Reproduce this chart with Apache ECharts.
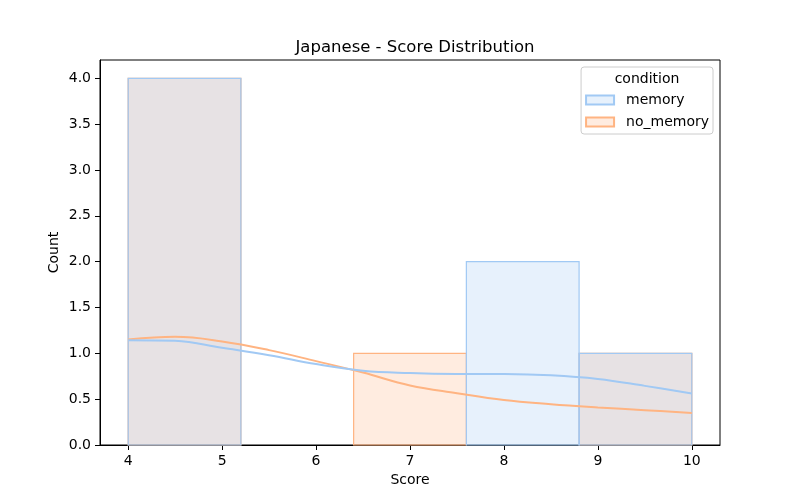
<!DOCTYPE html>
<html>
<head>
    <meta charset="utf-8">
    <title>Japanese - Score Distribution</title>
    <script src="https://cdn.jsdelivr.net/npm/echarts@6/dist/echarts.min.js"></script>
    <style>
        html, body { margin: 0; padding: 0; background: #fff; }
        #chart { width: 800px; height: 500px; }
    </style>
</head>
<body>
<div id="chart"></div>
<script>
    // histogram bins (score) and counts per condition
    var binEdges = [4, 5.2, 6.4, 7.6, 8.8, 10];
    var memoryCounts = [4, 0, 0, 2, 1];
    var noMemoryCounts = [4, 0, 1, 0, 1];

    // kde curves
    var kdeX = [4, 4.5, 5, 5.5, 6, 6.5, 7, 7.5, 8, 8.5, 9, 9.5, 10];
    var memoryKde = [1.144, 1.137, 1.06, 0.98, 0.883, 0.81, 0.785, 0.775, 0.774, 0.76, 0.72, 0.645, 0.563];
    var noMemoryKde = [1.152, 1.18, 1.13, 1.035, 0.915, 0.79, 0.65, 0.565, 0.49, 0.445, 0.41, 0.38, 0.35];

    var xTicks = [4, 5, 6, 7, 8, 9, 10];
    var yTicks = [0, 0.5, 1, 1.5, 2, 2.5, 3, 3.5, 4];

    var font = 'DejaVu Sans';

    function binData(counts) {
        var out = [];
        for (var i = 0; i < counts.length; i++) {
            out.push([binEdges[i], binEdges[i + 1], counts[i]]);
        }
        return out;
    }

    function kdeData(ys) {
        return kdeX.map(function (x, i) { return [x, ys[i]]; });
    }

    function renderBin(params, api) {
        var c = api.value(2);
        if (!c) return;
        var p0 = api.coord([api.value(0), c]);
        var p1 = api.coord([api.value(1), 0]);
        return {
            type: 'rect',
            shape: { x: p0[0], y: p0[1], width: p1[0] - p0[0], height: p1[1] - p0[1] },
            style: api.style()
        };
    }

    var chart = echarts.init(document.getElementById('chart'));
    var option = {
        animation: false,
        textStyle: { fontFamily: font },
        title: {
            text: 'Japanese - Score Distribution',
            left: 410,
            top: 34,
            textAlign: 'center',
            textStyle: { fontFamily: font, fontSize: 16.5, fontWeight: 'normal', color: '#000' }
        },
        grid: {
            left: 100, right: 80, top: 60, bottom: 55,
            show: true, borderColor: '#000', borderWidth: 1, backgroundColor: 'transparent'
        },
        legend: {
            orient: 'vertical',
            right: 87,
            top: 67,
            padding: [26, 4, 5, 4],
            itemWidth: 28,
            itemHeight: 9,
            itemGap: 8,
            backgroundColor: 'rgba(255,255,255,0.8)',
            borderColor: '#cccccc',
            borderWidth: 1,
            borderRadius: 3,
            textStyle: { fontFamily: font, fontSize: 14, lineHeight: 14, color: '#000', padding: [0, 0, 0, 7] },
            data: [
                { name: 'memory', icon: 'rect' },
                { name: 'no_memory', icon: 'rect' }
            ]
        },
        graphic: [{
            type: 'text',
            x: 647,
            y: 79,
            z: 100,
            style: {
                text: 'condition',
                fontFamily: font,
                fontSize: 14,
                fill: '#000',
                textAlign: 'center',
                textVerticalAlign: 'middle'
            }
        }],
        xAxis: {
            type: 'value',
            min: 3.7,
            max: 10.3,
            name: 'Score',
            nameLocation: 'middle',
            nameGap: 28,
            nameMoveOverlap: false,
            nameTextStyle: { fontFamily: font, fontSize: 14, color: '#000' },
            axisLine: { lineStyle: { color: '#000', width: 1 } },
            axisTick: { show: true, length: 5, lineStyle: { color: '#000' }, customValues: xTicks },
            axisLabel: { fontFamily: font, fontSize: 14, color: '#000', margin: 9, customValues: xTicks },
            splitLine: { show: false }
        },
        yAxis: {
            type: 'value',
            min: 0,
            max: 4.2,
            name: 'Count',
            nameLocation: 'middle',
            nameGap: 39,
            nameMoveOverlap: false,
            nameTextStyle: { fontFamily: font, fontSize: 14, color: '#000' },
            axisLine: { show: true, lineStyle: { color: '#000', width: 1 } },
            axisTick: { show: true, length: 5, lineStyle: { color: '#000' }, customValues: yTicks },
            axisLabel: {
                fontFamily: font, fontSize: 14, color: '#000', margin: 9, customValues: yTicks,
                formatter: function (v) { return v.toFixed(1); }
            },
            splitLine: { show: false }
        },
        series: [
            {
                name: 'no_memory',
                type: 'custom',
                renderItem: renderBin,
                encode: { x: [0, 1], y: 2 },
                itemStyle: { color: 'rgba(255,180,130,0.25)', borderColor: '#ffb482', borderWidth: 1.2 },
                data: binData(noMemoryCounts),
                z: 2
            },
            {
                name: 'memory',
                type: 'custom',
                renderItem: renderBin,
                encode: { x: [0, 1], y: 2 },
                itemStyle: { color: 'rgba(161,201,244,0.25)', borderColor: '#a1c9f4', borderWidth: 1.2 },
                data: binData(memoryCounts),
                z: 3
            },
            {
                name: 'no_memory kde',
                type: 'line',
                smooth: 0.4,
                symbol: 'none',
                lineStyle: { color: '#ffb482', width: 2 },
                itemStyle: { color: '#ffb482' },
                data: kdeData(noMemoryKde),
                z: 4
            },
            {
                name: 'memory kde',
                type: 'line',
                smooth: 0.4,
                symbol: 'none',
                lineStyle: { color: '#a1c9f4', width: 2 },
                itemStyle: { color: '#a1c9f4' },
                data: kdeData(memoryKde),
                z: 5
            }
        ]
    };
    chart.setOption(option);
</script>
</body>
</html>
